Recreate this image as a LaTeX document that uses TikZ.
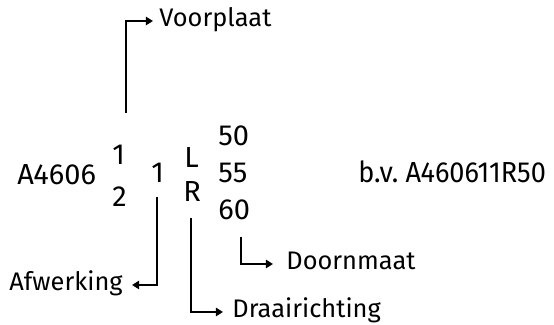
\documentclass[tikz,border=0pt]{standalone}
\usepackage{fontspec}
\setmainfont{Fira Sans}[Numbers=Proportional]
\usetikzlibrary{arrows.meta}

\begin{document}
\begin{tikzpicture}[x=0.5pt,y=-0.5pt,
	codenode/.style={anchor=base west, inner sep=0pt, font=\fontsize{14.5}{17}\selectfont},
	labelnode/.style={anchor=west, inner sep=0pt, text height=9.1pt, text depth=3.8pt, font=\fontsize{12.7}{15}\selectfont},
	connector/.style={line width=1.25pt, -{Triangle[length=3.6pt,width=4.2pt]}},
	]
	\useasboundingbox (0,0) rectangle (554,325);
	%Nodes
	\node[codenode]	(code)	at	(17,185)	{A4606};
	\node[codenode]	(up1)	at	(112,165)	{1};
	\node[codenode]	(dn2)	at	(112,207)	{2};
	\node[codenode]	(fin)	at	(151,183)	{1};
	\node[codenode]	(rotL)	at	(184,168)	{L};
	\node[codenode]	(rotR)	at	(183,202)	{R};
	\node[codenode]	(d50)	at	(218,146)	{50};
	\node[codenode]	(d55)	at	(218,183)	{55};
	\node[codenode]	(d60)	at	(218,220)	{60};
	\node[codenode,xscale=0.935,transform shape]	(eg)	at	(358,183)	{b.v.\ A460611R50};
	%Labels
	\node[labelnode]		(voor)	at	(159,21)	{Voorplaat};
	\node[labelnode,anchor=east]	(afw)	at	(123,285)	{Afwerking};
	\node[labelnode]		(draai)	at	(232,312)	{Draairichting};
	\node[labelnode]		(doorn)	at	(286,264)	{Doornmaat};
	%Connectors
	\coordinate (v0) at (126,113);
	\coordinate (a0) at (157,197);
	\coordinate (r0) at (191,218);
	\coordinate (m0) at (241,237);
	\draw[connector, shorten >=3pt]	(v0) |- (voor);
	\draw[connector, shorten >=4.5pt]	(a0) |- (afw);
	\draw[connector, shorten >=4.5pt]	(r0) |- (draai);
	\draw[connector, shorten >=6.5pt]	(m0) |- (doorn);
\end{tikzpicture}
\end{document}
